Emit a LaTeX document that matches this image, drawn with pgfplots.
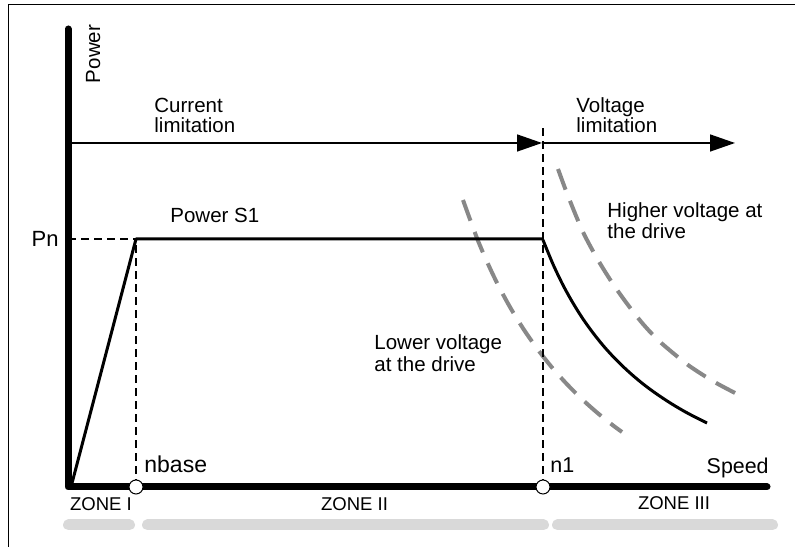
\documentclass[border=0pt]{standalone}
\usepackage{pgfplots}
\pgfplotsset{compat=1.18}
\usepackage{fontspec}
\setmainfont{Liberation Sans}
\usetikzlibrary{arrows.meta}
\definecolor{dgray}{HTML}{888888}
\definecolor{lgray}{HTML}{D9D9D9}
\newcommand{\tf}{\fontsize{10.25bp}{12bp}\selectfont}
\newcommand{\zf}{\fontsize{9.25bp}{11bp}\selectfont}
\begin{document}
\begin{tikzpicture}
\begin{axis}[x=0.5bp, y=0.5bp, xmin=-68, xmax=731, ymin=-60, ymax=487,
  hide axis, clip=false, scale only axis]
% frame
\draw[line width=0.5bp] (axis cs:-60,-60) -- (axis cs:-60,482) -- (axis cs:727,482);
\path (axis cs:-68,-60) rectangle (axis cs:731,487);
% zone bars
\addplot[lgray, line width=5.5bp, line cap=round] coordinates {(0.5,-38) (61.5,-38)};
\addplot[lgray, line width=5.5bp, line cap=round] coordinates {(79.5,-38) (475.5,-38)};
\addplot[lgray, line width=5.5bp, line cap=round] coordinates {(489.5,-38) (704.5,-38)};
% voltage curves
\addplot[dgray, line width=2bp, dash pattern=on 11bp off 6bp, smooth] coordinates {
 (395,287) (410,246.3) (425,212.3) (440,183.4) (455,158.7) (470,137.2) (485,118.3)
 (500,101.7) (515,86.9) (530,73.6) (545,61.6) (554,55)};
\addplot[dgray, line width=2bp, dash pattern=on 11bp off 6bp, smooth] coordinates {
 (490,318) (500,291) (515,255) (530,227) (545,203) (560,182) (575,163) (590,147)
 (605,134) (620,122) (635,112) (650,103) (667,94)};
% thin dashed guides
\addplot[black, line width=0.6bp, dash pattern=on 4bp off 2.5bp] coordinates {(475,0) (475,364)};
\addplot[black, line width=0.6bp, dash pattern=on 4bp off 2.5bp] coordinates {(68,0) (68,248)};
\addplot[black, line width=0.6bp, dash pattern=on 4bp off 2.5bp] coordinates {(0,248) (68,248)};
% limitation arrows
\addplot[black, line width=0.75bp, -{Triangle[length=12.5bp,width=8.5bp]}] coordinates {(0,344) (474,344)};
\addplot[black, line width=0.75bp, -{Triangle[length=12.5bp,width=8.5bp]}] coordinates {(475,344) (667,344)};
% power curve
\addplot[black, line width=1.5bp, line join=round] coordinates {(3,0) (68,248) (475,248)};
\addplot[black, line width=1.5bp, smooth] coordinates {
 (475,247) (485,222.8) (495,201.9) (505,183.9) (515,168.0) (525,154.1) (535,141.6)
 (545,130.5) (555,120.5) (565,111.4) (575,103.1) (585,95.6) (595,88.7) (605,82.3)
 (615,76.4) (625,71.0) (639,64.0)};
% axes
\addplot[black, line width=3.5bp, line cap=round, line join=round] coordinates {(0,458) (0,0) (699,0)};
% points
\addplot[only marks, mark=*, mark size=3.5bp, mark options={fill=white, draw=black, line width=0.5bp}] coordinates {(68,0) (475,0)};
% texts
\node[rotate=90, anchor=base, inner sep=0] at (axis cs:32,433) {\tf Power};
\node[anchor=base west, inner sep=0] at (axis cs:86,374) {\tf Current};
\node[anchor=base west, inner sep=0] at (axis cs:86,354) {\tf limitation};
\node[anchor=base west, inner sep=0] at (axis cs:508,374) {\tf Voltage};
\node[anchor=base west, inner sep=0] at (axis cs:508,354) {\tf limitation};
\node[anchor=base west, inner sep=0] at (axis cs:102,264) {\tf Power S1};
\node[anchor=base east, inner sep=0] at (axis cs:-9,240) {\fontsize{11bp}{13bp}\selectfont Pn};
\node[anchor=base west, inner sep=0] at (axis cs:539,269) {\tf Higher voltage at};
\node[anchor=base west, inner sep=0] at (axis cs:539,248) {\tf the drive};
\node[anchor=base west, inner sep=0] at (axis cs:306,137) {\tf Lower voltage};
\node[anchor=base west, inner sep=0] at (axis cs:306,115) {\tf at the drive};
\node[anchor=base west, inner sep=0] at (axis cs:76,14) {\fontsize{11.5bp}{13bp}\selectfont nbase};
\node[anchor=base west, inner sep=0] at (axis cs:482,14) {\fontsize{10.75bp}{13bp}\selectfont n1};
\node[anchor=base east, inner sep=0] at (axis cs:701,13) {\fontsize{10.7bp}{13bp}\selectfont Speed};
\node[anchor=base, inner sep=0] at (axis cs:33,-24) {\zf ZONE I};
\node[anchor=base, inner sep=0] at (axis cs:286.5,-24) {\zf ZONE II};
\node[anchor=base, inner sep=0] at (axis cs:606,-23) {\zf ZONE III};
\end{axis}
\end{tikzpicture}
\end{document}
